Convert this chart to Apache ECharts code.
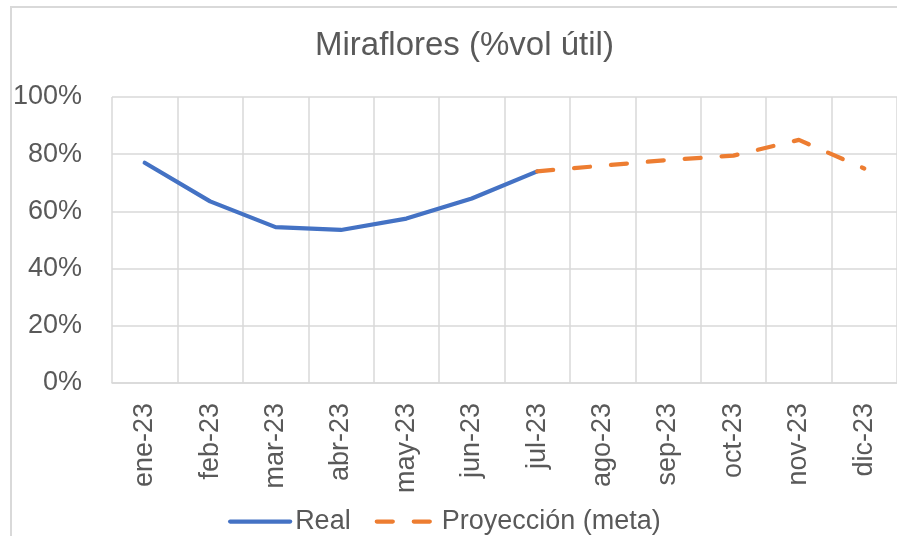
<!DOCTYPE html>
<html>
<head>
<meta charset="utf-8">
<script src="https://cdn.jsdelivr.net/npm/echarts@6/dist/echarts.min.js"></script>
<style>
html,body{margin:0;padding:0;background:#fff;}
#chart{width:897px;height:536px;}
</style>
</head>
<body>
<div id="chart"></div>
<script>
// meses
var months=['ene-23','feb-23','mar-23','abr-23','may-23','jun-23','jul-23','ago-23','sep-23','oct-23','nov-23','dic-23'];
// %vol útil, real hasta julio
var real=[77,63.5,54.5,53.5,57.5,64.5,74,null,null,null,null,null];
// proyección desde julio
var proyeccion=[null,null,null,null,null,null,74,76,78,79.5,85,75];
var yTicks=[0,20,40,60,80,100];

var grey='#595959';
var gridColor='#d9d9d9';
var font='Liberation Sans';

var myChart=echarts.init(document.getElementById('chart'));
var option={
  backgroundColor:'#fff',
  animation:false,
  title:{
    text:'Miraflores (%vol útil)',
    left:315,
    top:29,
    padding:0,
    textStyle:{color:grey,fontSize:33,fontWeight:'normal',fontFamily:font}
  },
  graphic:[{
    type:'rect',
    shape:{x:11,y:7,width:1000,height:1000},
    style:{fill:'none',stroke:gridColor,lineWidth:2},
    silent:true
  }],
  legend:{
    bottom:-4,
    left:223,
    itemWidth:60,
    itemHeight:14,
    itemGap:24,
    itemStyle:{opacity:0},
    lineStyle:{width:'inherit'},
    textStyle:{color:grey,fontSize:27,fontFamily:font},
    data:['Real','Proyección (meta)']
  },
  grid:{left:112,top:97,right:-3,bottom:153,containLabel:false},
  xAxis:{
    type:'category',
    data:months,
    boundaryGap:true,
    axisTick:{show:false},
    axisLine:{lineStyle:{color:gridColor,width:1.5}},
    splitLine:{show:true,lineStyle:{color:gridColor,width:1.5}},
    axisLabel:{rotate:90,margin:20,color:grey,fontSize:27,fontFamily:font,interval:0}
  },
  yAxis:{
    type:'value',
    min:yTicks[0],
    max:yTicks[yTicks.length-1],
    interval:20,
    axisLine:{show:false},
    axisTick:{show:false},
    splitLine:{lineStyle:{color:gridColor,width:1.5}},
    axisLabel:{formatter:'{value}%',margin:30,color:grey,fontSize:27,fontFamily:font}
  },
  series:[{
    name:'Real',
    type:'line',
    data:real,
    symbol:'none',
    lineStyle:{color:'#4472C4',width:4.25,cap:'round',join:'round'},
    itemStyle:{color:'#4472C4'}
  },{
    name:'Proyección (meta)',
    type:'line',
    data:proyeccion,
    symbol:'none',
    lineStyle:{color:'#ED7D31',width:4.25,type:[16,21],cap:'round',join:'round'},
    itemStyle:{color:'#ED7D31'}
  }]
};
myChart.setOption(option);
</script>
</body>
</html>
